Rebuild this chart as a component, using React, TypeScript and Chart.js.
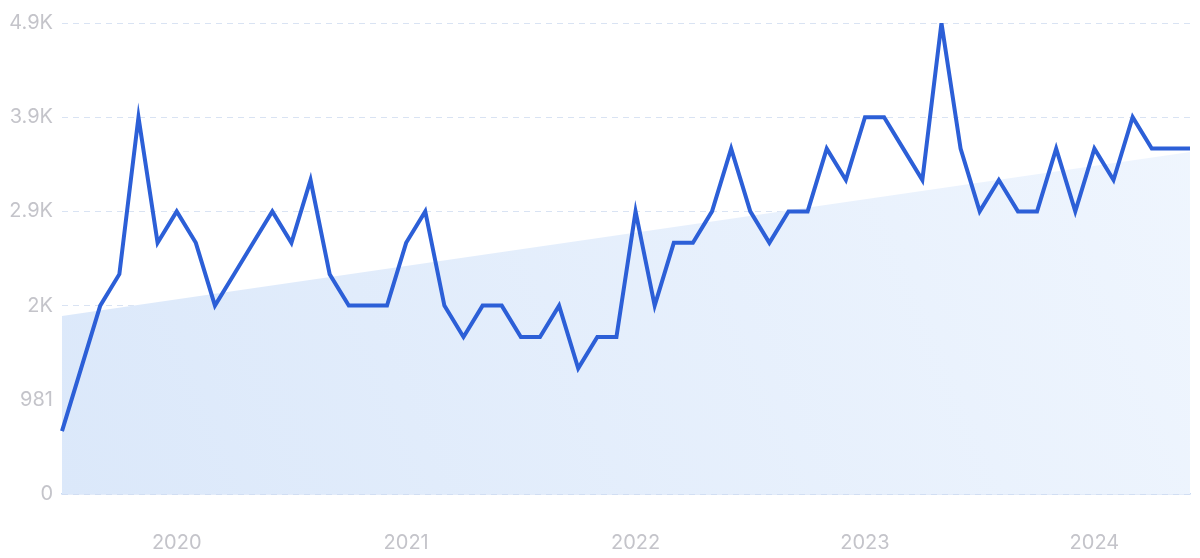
import React, { useEffect, useRef } from "react";
import { Chart, registerables } from "chart.js";

Chart.register(...registerables);

// Monthly categories, Jul 2019 .. Jun 2024
const months: string[] = [];
for (let y = 2019; y <= 2024; y++) {
  for (let m = 1; m <= 12; m++) {
    if ((y === 2019 && m < 7) || (y === 2024 && m > 6)) continue;
    months.push(`${y}-${String(m).padStart(2, "0")}`);
  }
}

const searches: number[] = [
  654, 1308, 1962, 2289, 3924, 2616, 2943, 2616, 1962, 2289, 2616, 2943,
  2616, 3270, 2289, 1962, 1962, 1962, 2616, 2943, 1962, 1635, 1962, 1962,
  1635, 1635, 1962, 1308, 1635, 1635, 2943, 1962, 2616, 2616, 2943, 3597,
  2943, 2616, 2943, 2943, 3597, 3270, 3924, 3924, 3597, 3270, 4905, 3597,
  2943, 3270, 2943, 2943, 3597, 2943, 3597, 3270, 3924, 3597, 3597, 3597,
];

const trendStartEnd: number[] = [1854, 3562];

const yTickValues: number[] = [0, 981, 1962, 2943, 3924, 4905];
const yTickLabels: string[] = ["0", "981", "2K", "2.9K", "3.9K", "4.9K"];

const FONT = "Inter, 'Noto Sans', sans-serif";

export default function App() {
  const ref = useRef<HTMLCanvasElement | null>(null);

  useEffect(() => {
    document.body.style.margin = "0";
    if (!ref.current) return;
    const chart = new Chart(ref.current, {
      type: "line",
      data: {
        labels: months,
        datasets: [
          {
            data: searches,
            borderColor: "#2c5fd7",
            borderWidth: 4,
            pointRadius: 0,
            tension: 0,
            fill: false,
          },
          {
            data: [
              { x: months[0], y: trendStartEnd[0] },
              { x: months[months.length - 1], y: trendStartEnd[1] },
            ] as any,
            borderWidth: 0,
            borderColor: "rgba(0,0,0,0)",
            pointRadius: 0,
            fill: "origin",
            backgroundColor: (ctx: any) => {
              const ca = ctx.chart.chartArea;
              if (!ca) return "#e4eefc";
              const g = ctx.chart.ctx.createLinearGradient(ca.left, ca.bottom, ca.right, ca.top);
              g.addColorStop(0, "#dbe8fa");
              g.addColorStop(1, "#f0f6fe");
              return g;
            },
          },
        ],
      },
      options: {
        animation: false,
        responsive: false,
        maintainAspectRatio: false,
        layout: { padding: { top: 23, right: 10, left: 0, bottom: 0 } },
        plugins: { legend: { display: false }, tooltip: { enabled: false } },
        scales: {
          x: {
            type: "category",
            grid: { display: false },
            border: { display: true, color: "#c9daf3", width: 1.5 },
            ticks: {
              autoSkip: false,
              maxRotation: 0,
              padding: 29,
              color: "#c4c4ca",
              font: { family: FONT, size: 20 },
              callback: (_v: any, i: number) => {
                const s = months[i];
                return s && s.endsWith("-01") ? s.slice(0, 4) : "";
              },
            },
            afterFit: (scale: any) => {
              scale.height = 64;
              scale.paddingLeft = 0;
              scale.paddingRight = 0;
            },
          },
          y: {
            min: 0,
            max: 4905,
            afterBuildTicks: (scale: any) => {
              scale.ticks = yTickValues.map((v) => ({ value: v }));
            },
            grid: { color: "#d9e3f3", lineWidth: 1, drawTicks: false },
            border: { display: false, dash: [6, 5] },
            ticks: {
              padding: 9,
              color: "#c4c4ca",
              font: { family: FONT, size: 20 },
              callback: (v: any) => {
                const i = yTickValues.indexOf(Number(v));
                return i >= 0 ? yTickLabels[i] : "";
              },
            },
            afterFit: (scale: any) => {
              scale.width = 62;
              scale.paddingTop = 0;
              scale.paddingBottom = 0;
            },
          },
        },
      },
    });
    return () => chart.destroy();
  }, []);

  return <canvas ref={ref} width={1200} height={558} style={{ display: "block" }} />;
}
